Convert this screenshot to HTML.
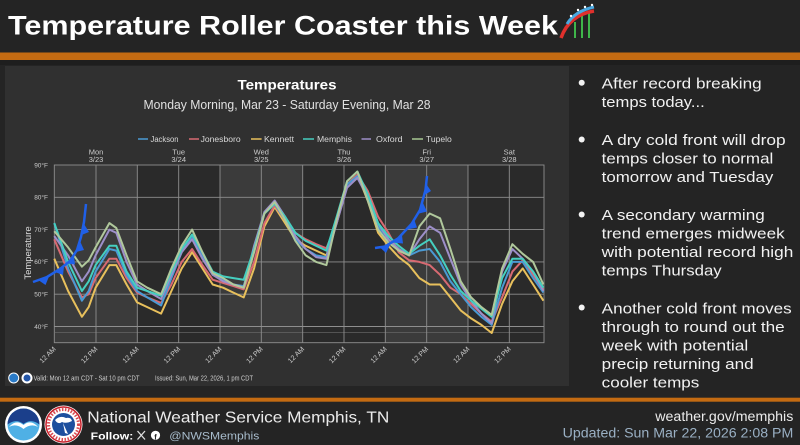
<!DOCTYPE html>
<html><head><meta charset="utf-8"><style>
html,body{margin:0;padding:0;background:#242424;}
svg{display:block;}
text{font-family:"Liberation Sans",sans-serif;}
</style></head><body>
<svg width="800" height="445" viewBox="0 0 800 445" xmlns="http://www.w3.org/2000/svg">
<rect x="0" y="0" width="800" height="445" fill="#242424"/>
<!-- Title -->
<text x="8" y="34.5" font-size="27" font-weight="bold" fill="#ffffff" textLength="550" lengthAdjust="spacingAndGlyphs">Temperature Roller Coaster this Week</text>
<!-- coaster icon -->
<g>
<line x1="575" y1="22" x2="575" y2="38" stroke="#3fb54a" stroke-width="2"/>
<line x1="582" y1="16" x2="582" y2="38" stroke="#3fb54a" stroke-width="2"/>
<line x1="589" y1="12" x2="589" y2="38" stroke="#3fb54a" stroke-width="2"/>
<path d="M561,38 Q569,15 594,11" stroke="#e0302c" stroke-width="3.5" fill="none"/>
<path d="M567,24 Q575,11 594,7" stroke="#4aa8e0" stroke-width="3" fill="none"/>
<circle cx="571" cy="16" r="1.2" fill="#fff"/><circle cx="578" cy="10" r="1.2" fill="#fff"/><circle cx="585" cy="7" r="1.2" fill="#fff"/><circle cx="592" cy="5" r="1.2" fill="#fff"/>
</g>
<!-- orange bars -->
<rect x="0" y="52.5" width="800" height="7.5" fill="#c46b12"/>
<rect x="0" y="60" width="800" height="5" fill="#1e1e1e"/>
<rect x="0" y="397.7" width="800" height="4" fill="#c46b12"/>
<!-- chart panel -->
<rect x="5" y="66" width="564" height="320" fill="#303030"/>
<text x="287" y="89.3" font-size="14" font-weight="bold" fill="#ffffff" text-anchor="middle" textLength="99" lengthAdjust="spacingAndGlyphs">Temperatures</text>
<text x="287" y="109" font-size="12.5" fill="#e0e0e0" text-anchor="middle" textLength="287" lengthAdjust="spacingAndGlyphs">Monday Morning, Mar 23 - Saturday Evening, Mar 28</text>
<!-- legend -->
<g font-size="8" fill="#d8d8d8">
<line x1="138" y1="139" x2="148" y2="139" stroke="#4a9ad4" stroke-width="1.5"/><text x="150.5" y="142" textLength="28" lengthAdjust="spacingAndGlyphs">Jackson</text>
<line x1="189" y1="139" x2="199" y2="139" stroke="#d86a72" stroke-width="1.5"/><text x="200.6" y="142" textLength="40" lengthAdjust="spacingAndGlyphs">Jonesboro</text>
<line x1="251" y1="139" x2="261.6" y2="139" stroke="#e8c05c" stroke-width="1.5"/><text x="264" y="142" textLength="30" lengthAdjust="spacingAndGlyphs">Kennett</text>
<line x1="303" y1="139" x2="314" y2="139" stroke="#45cfc0" stroke-width="1.5"/><text x="317" y="142" textLength="35" lengthAdjust="spacingAndGlyphs">Memphis</text>
<line x1="361.5" y1="139" x2="371" y2="139" stroke="#9d8fc9" stroke-width="1.5"/><text x="376" y="142" textLength="26.6" lengthAdjust="spacingAndGlyphs">Oxford</text>
<line x1="412" y1="139" x2="423" y2="139" stroke="#a9c993" stroke-width="1.5"/><text x="426" y="142" textLength="25.8" lengthAdjust="spacingAndGlyphs">Tupelo</text>
</g>
<!-- day labels -->
<g font-size="7.5" fill="#cccccc" text-anchor="middle">
<text x="96" y="154.5">Mon</text><text x="96" y="162">3/23</text>
<text x="178.7" y="154.5">Tue</text><text x="178.7" y="162">3/24</text>
<text x="261.3" y="154.5">Wed</text><text x="261.3" y="162">3/25</text>
<text x="344" y="154.5">Thu</text><text x="344" y="162">3/26</text>
<text x="426.7" y="154.5">Fri</text><text x="426.7" y="162">3/27</text>
<text x="509.3" y="154.5">Sat</text><text x="509.3" y="162">3/28</text>
</g>
<!-- plot bands -->
<rect x="54.3" y="165" width="83" height="177.7" fill="#3b3b3b"/>
<rect x="137.3" y="165" width="82.7" height="177.7" fill="#2a2a2a"/>
<rect x="220" y="165" width="82.7" height="177.7" fill="#3b3b3b"/>
<rect x="302.7" y="165" width="82.6" height="177.7" fill="#2a2a2a"/>
<rect x="385.3" y="165" width="82.7" height="177.7" fill="#3b3b3b"/>
<rect x="468" y="165" width="76" height="177.7" fill="#2a2a2a"/>
<!-- grid -->
<g stroke="#8e8e8e" stroke-width="0.9" fill="none">
<rect x="54.3" y="165" width="489.7" height="177.7"/>
<line x1="54.3" y1="197.3" x2="544" y2="197.3"/>
<line x1="54.3" y1="229.6" x2="544" y2="229.6"/>
<line x1="54.3" y1="261.9" x2="544" y2="261.9"/>
<line x1="54.3" y1="294.2" x2="544" y2="294.2"/>
<line x1="54.3" y1="326.5" x2="544" y2="326.5"/>
<line x1="54.3" y1="332.7" x2="544" y2="332.7" stroke-width="0.6" stroke="#6e6e6e"/>
<line x1="96" y1="165" x2="96" y2="342.7"/>
<line x1="137.3" y1="165" x2="137.3" y2="342.7"/>
<line x1="178.7" y1="165" x2="178.7" y2="342.7"/>
<line x1="220" y1="165" x2="220" y2="342.7"/>
<line x1="261.3" y1="165" x2="261.3" y2="342.7"/>
<line x1="302.7" y1="165" x2="302.7" y2="342.7"/>
<line x1="344" y1="165" x2="344" y2="342.7"/>
<line x1="385.3" y1="165" x2="385.3" y2="342.7"/>
<line x1="426.7" y1="165" x2="426.7" y2="342.7"/>
<line x1="468" y1="165" x2="468" y2="342.7"/>
<line x1="509.3" y1="165" x2="509.3" y2="342.7"/>
</g>
<!-- y labels -->
<g font-size="6.5" fill="#cccccc" text-anchor="end">
<text x="48" y="167.3">90°F</text>
<text x="48" y="199.6">80°F</text>
<text x="48" y="231.9">70°F</text>
<text x="48" y="264.2">60°F</text>
<text x="48" y="296.5">50°F</text>
<text x="48" y="328.8">40°F</text>
</g>
<text transform="translate(31,253) rotate(-90)" font-size="9.5" fill="#dddddd" text-anchor="middle">Temperature</text>
<!-- x labels -->
<g font-size="7" fill="#cccccc" text-anchor="end">
<text transform="translate(56.3,349.5) rotate(-45)">12 AM</text>
<text transform="translate(98,349.5) rotate(-45)">12 PM</text>
<text transform="translate(139.3,349.5) rotate(-45)">12 AM</text>
<text transform="translate(180.7,349.5) rotate(-45)">12 PM</text>
<text transform="translate(222,349.5) rotate(-45)">12 AM</text>
<text transform="translate(263.3,349.5) rotate(-45)">12 PM</text>
<text transform="translate(304.7,349.5) rotate(-45)">12 AM</text>
<text transform="translate(346,349.5) rotate(-45)">12 PM</text>
<text transform="translate(387.3,349.5) rotate(-45)">12 AM</text>
<text transform="translate(428.7,349.5) rotate(-45)">12 PM</text>
<text transform="translate(470,349.5) rotate(-45)">12 AM</text>
<text transform="translate(511.3,349.5) rotate(-45)">12 PM</text>
</g>
<!-- series -->
<g fill="none" stroke-width="2" stroke-linejoin="round">
<polyline stroke="#e8c05c" points="54.3,258.7 68.1,291.0 81.9,316.8 88.7,307.1 95.6,287.7 109.4,265.1 116.3,265.1 126.6,284.5 137.0,302.3 147.3,307.1 161.1,313.6 171.4,291.0 181.7,268.4 192.1,252.2 202.4,268.4 212.7,284.5 223.1,287.7 233.4,292.6 243.7,297.4 254.1,268.4 264.4,226.4 274.7,207.0 285.1,223.1 295.4,239.3 305.7,245.8 316.1,250.6 326.4,255.4 336.7,223.1 347.1,184.4 357.4,174.7 367.7,200.5 378.1,232.8 388.4,245.8 398.7,257.1 409.1,265.1 419.4,278.1 429.7,284.5 440.1,284.5 450.4,297.4 460.7,310.4 471.1,318.4 481.4,324.9 491.7,333.0 502.1,303.9 512.4,281.3 522.7,268.4 533.1,284.5 543.4,300.7"/>
<polyline stroke="#d86a72" points="54.3,239.3 68.1,271.6 81.9,297.4 88.7,294.2 95.6,278.1 109.4,258.7 116.3,258.7 126.6,278.1 137.0,292.6 147.3,297.4 161.1,302.9 171.4,284.5 181.7,261.9 192.1,249.0 202.4,265.1 212.7,279.7 223.1,282.9 233.4,286.1 243.7,289.4 254.1,261.9 264.4,223.1 274.7,205.4 285.1,219.9 295.4,232.8 305.7,239.3 316.1,244.2 326.4,248.3 336.7,223.1 347.1,184.4 357.4,174.7 367.7,190.8 378.1,216.7 388.4,232.8 398.7,252.2 409.1,260.3 419.4,261.9 429.7,265.1 440.1,274.8 450.4,287.7 460.7,294.2 471.1,303.9 481.4,313.6 491.7,321.7 502.1,297.4 512.4,271.6 522.7,260.3 533.1,274.8 543.4,289.4"/>
<polyline stroke="#4a9ad4" points="54.3,223.1 68.1,268.4 81.9,300.7 88.7,291.0 95.6,271.6 109.4,249.0 116.3,250.6 126.6,274.8 137.0,291.0 147.3,297.4 161.1,305.5 171.4,278.1 181.7,252.2 192.1,236.1 202.4,255.4 212.7,274.8 223.1,279.7 233.4,284.5 243.7,286.1 254.1,249.0 264.4,213.5 274.7,203.8 285.1,219.9 295.4,239.3 305.7,249.0 316.1,255.4 326.4,257.1 336.7,219.9 347.1,184.4 357.4,176.3 367.7,197.3 378.1,226.4 388.4,239.3 398.7,249.0 409.1,255.4 419.4,250.6 429.7,249.0 440.1,261.9 450.4,281.3 460.7,294.2 471.1,307.1 481.4,316.8 491.7,324.9 502.1,287.7 512.4,261.9 522.7,261.9 533.1,278.1 543.4,292.6"/>
<polyline stroke="#9d8fc9" points="54.3,236.1 68.1,255.4 81.9,281.3 88.7,271.6 95.6,255.4 109.4,229.6 116.3,232.8 126.6,261.9 137.0,284.5 147.3,291.0 161.1,299.0 171.4,274.8 181.7,252.2 192.1,239.3 202.4,258.7 212.7,274.8 223.1,281.3 233.4,284.5 243.7,287.7 254.1,245.8 264.4,211.9 274.7,200.5 285.1,216.7 295.4,236.1 305.7,249.0 316.1,257.1 326.4,258.7 336.7,223.1 347.1,187.6 357.4,177.9 367.7,197.3 378.1,223.1 388.4,239.3 398.7,249.0 409.1,255.4 419.4,239.3 429.7,226.4 440.1,232.8 450.4,258.7 460.7,284.5 471.1,300.7 481.4,313.6 491.7,323.3 502.1,271.6 512.4,249.0 522.7,258.7 533.1,271.6 543.4,291.0"/>
<polyline stroke="#45cfc0" points="54.3,223.1 68.1,261.9 81.9,291.0 88.7,281.3 95.6,265.1 109.4,245.8 116.3,245.8 126.6,271.6 137.0,287.7 147.3,291.0 161.1,295.8 171.4,271.6 181.7,249.0 192.1,234.5 202.4,252.2 212.7,271.6 223.1,276.4 233.4,278.1 243.7,279.7 254.1,249.0 264.4,213.5 274.7,203.8 285.1,216.7 295.4,232.8 305.7,240.9 316.1,245.8 326.4,250.6 336.7,216.7 347.1,181.2 357.4,171.5 367.7,194.1 378.1,223.1 388.4,236.1 398.7,245.8 409.1,253.8 419.4,245.8 429.7,239.3 440.1,255.4 450.4,274.8 460.7,291.0 471.1,300.7 481.4,308.7 491.7,316.8 502.1,278.1 512.4,258.7 522.7,258.7 533.1,271.6 543.4,287.7"/>
<polyline stroke="#b0c89c" points="54.3,231.2 68.1,247.4 81.9,266.7 88.7,260.3 95.6,247.4 109.4,223.1 116.3,228.0 126.6,255.4 137.0,281.3 147.3,287.7 161.1,294.2 171.4,268.4 181.7,245.8 192.1,229.6 202.4,252.2 212.7,273.2 223.1,278.1 233.4,284.5 243.7,287.7 254.1,252.2 264.4,213.5 274.7,202.1 285.1,219.9 295.4,240.9 305.7,255.4 316.1,261.9 326.4,265.1 336.7,219.9 347.1,181.2 357.4,171.5 367.7,200.5 378.1,229.6 388.4,242.5 398.7,250.6 409.1,255.4 419.4,226.4 429.7,213.5 440.1,218.3 450.4,249.0 460.7,281.3 471.1,297.4 481.4,307.1 491.7,314.9 502.1,268.4 512.4,244.2 522.7,253.8 533.1,261.9 543.4,284.5"/>
</g>
<!-- cold fronts -->
<g fill="#2060e8" stroke="#2060e8">
<polyline fill="none" stroke-width="2.5" points="33,282 47,277 60,269 70,261 77,250 81,237 84,222 86,204"/>
<polygon stroke="none" points="39,280.5 49,276.5 45.5,285"/>
<polygon stroke="none" points="55,272 64,266.5 63,275"/>
<polygon stroke="none" points="67,263.5 74,256 75,264.5"/>
<polygon stroke="none" points="76,252 80,241 84,250"/>
<polygon stroke="none" points="81.5,235 84,224 89,232"/>
<polyline fill="none" stroke-width="2.5" points="375,248 385,246.5 398,238.5 411.5,224 420,210 425.5,190 427,176"/>
<polygon stroke="none" points="380,247.5 390,245 386,253"/>
<polygon stroke="none" points="392,242.5 402,235.5 403,243.5"/>
<polygon stroke="none" points="407,229.5 414,219 417,227.5"/>
<polygon stroke="none" points="419,213.5 423,203 427,211.5"/>
<polygon stroke="none" points="424.5,195 426.2,184 431,191"/>
</g>
<!-- chart footer -->
<circle cx="13.7" cy="378" r="5.5" fill="#ffffff"/><circle cx="13.7" cy="378" r="4.5" fill="#2a7bc8"/>
<circle cx="27" cy="378" r="5.5" fill="#ffffff"/><circle cx="27" cy="378" r="3.5" fill="#2456a8"/>
<text x="33.5" y="380.5" font-size="7" fill="#cfcfcf" textLength="106" lengthAdjust="spacingAndGlyphs">Valid: Mon 12 am CDT - Sat 10 pm CDT</text>
<text x="155" y="380.5" font-size="7" fill="#cfcfcf" textLength="98" lengthAdjust="spacingAndGlyphs">Issued: Sun, Mar 22, 2026, 1 pm CDT</text>
<!-- bullets -->
<g fill="#f2f2f2">
<circle cx="581.7" cy="82.7" r="3"/>
<circle cx="581.7" cy="139.5" r="3"/>
<circle cx="581.7" cy="214.5" r="3"/>
<circle cx="581.7" cy="307.5" r="3"/>
</g>
<g font-size="15" fill="#f2f2f2">
<text x="601.7" y="88.3" textLength="160" lengthAdjust="spacingAndGlyphs">After record breaking</text>
<text x="601.7" y="106.8" textLength="103" lengthAdjust="spacingAndGlyphs">temps today...</text>
<text x="601.7" y="145" textLength="184" lengthAdjust="spacingAndGlyphs">A dry cold front will drop</text>
<text x="601.7" y="163.5" textLength="171.6" lengthAdjust="spacingAndGlyphs">temps closer to normal</text>
<text x="601.7" y="182" textLength="171.6" lengthAdjust="spacingAndGlyphs">tomorrow and Tuesday</text>
<text x="601.7" y="220" textLength="163" lengthAdjust="spacingAndGlyphs">A secondary warming</text>
<text x="601.7" y="238.5" textLength="183" lengthAdjust="spacingAndGlyphs">trend emerges midweek</text>
<text x="601.7" y="257" textLength="191.6" lengthAdjust="spacingAndGlyphs">with potential record high</text>
<text x="601.7" y="275.5" textLength="120" lengthAdjust="spacingAndGlyphs">temps Thursday</text>
<text x="601.7" y="313.3" textLength="190" lengthAdjust="spacingAndGlyphs">Another cold front moves</text>
<text x="601.7" y="331.8" textLength="183" lengthAdjust="spacingAndGlyphs">through to round out the</text>
<text x="601.7" y="350.3" textLength="146.6" lengthAdjust="spacingAndGlyphs">week with potential</text>
<text x="601.7" y="368.8" textLength="152" lengthAdjust="spacingAndGlyphs">precip returning and</text>
<text x="601.7" y="387.3" textLength="97.6" lengthAdjust="spacingAndGlyphs">cooler temps</text>
</g>
<!-- footer logos -->
<circle cx="23.5" cy="424.5" r="18.5" fill="#ffffff"/>
<circle cx="23.5" cy="424.5" r="16" fill="#4fb0e5"/>
<path d="M7.5,424.5 A16,16 0 0 1 39.5,424.5 Q31,418 23.5,424 Q16,418 7.5,424.5 Z" fill="#1b3f8b"/>
<path d="M9,427 Q16,419 23.5,425 Q31,419 38,427 Q31,423 23.5,429 Q16,423 9,427 Z" fill="#ffffff"/>
<circle cx="63.5" cy="424.5" r="19" fill="#ffffff"/>
<circle cx="63.5" cy="424.5" r="17.5" fill="none" stroke="#c81e28" stroke-width="1.5"/>
<circle cx="63.5" cy="424.5" r="15" fill="none" stroke="#d84a50" stroke-width="3" stroke-dasharray="1.5 1.5"/>
<circle cx="63.5" cy="424.5" r="11.5" fill="#1d4f9e"/>
<path d="M55,420 Q60,415 66,418 Q71,417 72,421 Q66,424 62,422 Q58,425 55,420 Z M63,423 L68,434 L65,433 Z" fill="#ffffff"/>
<!-- footer text -->
<text x="87.3" y="422.7" font-size="16" fill="#ebebeb" textLength="302" lengthAdjust="spacingAndGlyphs">National Weather Service Memphis, TN</text>
<text x="90.7" y="439.3" font-size="10.5" font-weight="bold" fill="#ffffff" textLength="42.6" lengthAdjust="spacingAndGlyphs">Follow:</text>
<g stroke="#e0e0e0" stroke-width="1.3"><line x1="137.5" y1="431" x2="145" y2="439.5"/><line x1="145" y1="431" x2="137.5" y2="439.5"/></g>
<circle cx="155.5" cy="435.3" r="4.6" fill="#ffffff"/>
<text x="154.3" y="439.6" font-size="7.5" font-weight="bold" fill="#242424">f</text>
<text x="169.3" y="439.3" font-size="11" fill="#a8bccc" textLength="90" lengthAdjust="spacingAndGlyphs">@NWSMemphis</text>
<text x="793.3" y="421" font-size="13.5" fill="#ebebeb" text-anchor="end" textLength="138" lengthAdjust="spacingAndGlyphs">weather.gov/memphis</text>
<text x="793.3" y="437.5" font-size="13.5" fill="#9ab0c4" text-anchor="end" textLength="230.6" lengthAdjust="spacingAndGlyphs">Updated: Sun Mar 22, 2026 2:08 PM</text>
</svg>
</body></html>
